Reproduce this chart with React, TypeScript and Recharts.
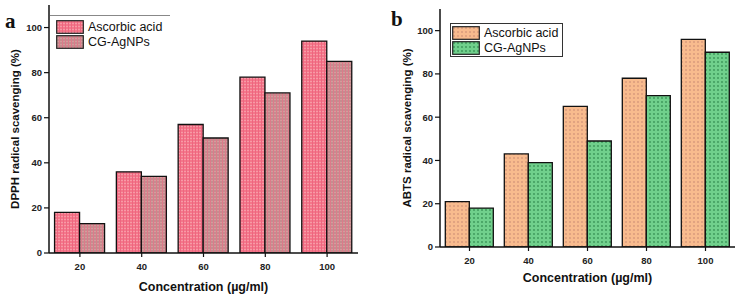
import React from 'react';
import { BarChart, Bar, XAxis, YAxis, Legend } from 'recharts';

const categories = ['20', '40', '60', '80', '100'];
const dpphAscorbic = [18, 36, 57, 78, 94];
const dpphCG = [13, 34, 51, 71, 85];
const abtsAscorbic = [21, 43, 65, 78, 96];
const abtsCG = [18, 39, 49, 70, 90];
const yTicks = [0, 20, 40, 60, 80, 100];
const seriesNames = ['Ascorbic acid', 'CG-AgNPs'];

const FONT = 'Arial, "Liberation Sans", sans-serif';

const build = (a: number[], b: number[]) =>
  categories.map((c, i) => ({ conc: c, asc: a[i], cg: b[i] }));

const Patterns = () => (
  <defs>
    <pattern id="pA" width="3" height="3" patternUnits="userSpaceOnUse">
      <rect width="3" height="3" fill="#f4788a" />
      <rect width="3" height="1" fill="#f79aa6" />
      <rect width="1" height="3" fill="#ee6680" />
    </pattern>
    <pattern id="pB" width="3" height="3" patternUnits="userSpaceOnUse">
      <rect width="3" height="3" fill="#c48d8f" />
      <rect width="3" height="1" fill="#d59b9c" />
      <rect width="1" height="3" fill="#dd7a8a" />
    </pattern>
    <pattern id="pC" width="4" height="4" patternUnits="userSpaceOnUse">
      <rect width="4" height="4" fill="#f8bb8e" />
      <circle cx="2" cy="2" r="0.9" fill="#d7987a" />
    </pattern>
    <pattern id="pD" width="4" height="4" patternUnits="userSpaceOnUse">
      <rect width="4" height="4" fill="#70d08c" />
      <circle cx="2" cy="2" r="0.9" fill="#3a9558" />
    </pattern>
  </defs>
);

type PanelProps = {
  data: { conc: string; asc: number; cg: number }[];
  left: number;
  yWidth: number;
  top: number;
  right: number;
  bottom: number;
  ascFill: string;
  cgFill: string;
  yLabel: string;
  yLabelX: number;
  xLabelY: number;
  legendStyle: React.CSSProperties;
  legendBoxed: boolean;
  letter: string;
  letterX: number;
  letterY: number;
};

const Panel = (p: PanelProps) => {
  const W = 372;
  const H = 300;
  const plotTop = p.top;
  const plotBottom = H - p.bottom - 30;
  const plotLeft = p.yWidth;
  const plotRight = W - p.right;
  const yCenter = (plotTop + plotBottom) / 2;
  const xCenter = (plotLeft + plotRight) / 2;

  const legendContent = () => (
    <div
      style={{
        fontFamily: FONT,
        fontSize: 12.5,
        color: '#111',
        border: p.legendBoxed ? '1.2px solid #333' : 'none',
        borderTop: p.legendBoxed ? '1.2px solid #333' : '1.2px solid #888',
        padding: p.legendBoxed ? '1px 3px 1px 1px' : '3px 3px 1px 6px',
        boxSizing: 'border-box',
        background: 'white',
      }}
    >
      {[p.ascFill, p.cgFill].map((f, i) => (
        <div key={i} style={{ display: 'flex', alignItems: 'center', height: 15 }}>
          <svg width={28} height={14} style={{ marginRight: 4 }}>
            <rect x={0.7} y={0.7} width={26.6} height={12.6} fill={f} stroke="#222" strokeWidth={1.2} />
          </svg>
          <span>{seriesNames[i]}</span>
        </div>
      ))}
    </div>
  );

  return (
    <div style={{ position: 'absolute', left: p.left, top: 0, width: W, height: H }}>
      <BarChart
        width={W}
        height={H}
        data={p.data}
        margin={{ top: p.top, right: p.right, left: 0, bottom: p.bottom }}
        barCategoryGap="9%"
        barGap={0}
      >
        <Patterns />
        <XAxis
          dataKey="conc"
          height={30}
          axisLine={{ stroke: '#111', strokeWidth: 1.5 }}
          tickLine={{ stroke: '#111', strokeWidth: 1.2 }}
          tickSize={4}
          tick={{ fontFamily: FONT, fontSize: 9.5, fontWeight: 700, fill: '#222' }}
          tickMargin={6}
          label={{
            content: () => (
              <text
                x={xCenter}
                y={p.xLabelY}
                textAnchor="middle"
                style={{ fontFamily: FONT, fontSize: 12.5, fontWeight: 700, fill: '#111' }}
              >
                Concentration (µg/ml)
              </text>
            ),
          }}
        />
        <XAxis
          xAxisId="top"
          dataKey="conc"
          orientation="top"
          height={0}
          tick={false}
          tickLine={false}
          axisLine={{ stroke: '#111', strokeWidth: 1.5 }}
        />
        <YAxis
          width={p.yWidth}
          domain={[0, 110]}
          ticks={yTicks}
          allowDataOverflow
          axisLine={{ stroke: '#111', strokeWidth: 1.5 }}
          tickLine={{ stroke: '#111', strokeWidth: 1.2 }}
          tickSize={5}
          tickMargin={2}
          tick={{ fontFamily: FONT, fontSize: 9.5, fontWeight: 700, fill: '#222' }}
          label={{
            content: () => (
              <text
                x={p.yLabelX}
                y={yCenter}
                textAnchor="middle"
                transform={`rotate(-90, ${p.yLabelX}, ${yCenter})`}
                dominantBaseline="central"
                style={{ fontFamily: FONT, fontSize: 11.5, fontWeight: 700, fill: '#111' }}
              >
                {p.yLabel}
              </text>
            ),
          }}
        />
        <YAxis
          yAxisId="right"
          orientation="right"
          width={0}
          domain={[0, 110]}
          tick={false}
          tickLine={false}
          axisLine={{ stroke: '#111', strokeWidth: 1.5 }}
        />
        <Legend
          layout="horizontal"
          verticalAlign="middle"
          align="center"
          content={legendContent}
          wrapperStyle={p.legendStyle}
        />
        <Bar dataKey="asc" name={seriesNames[0]} fill={p.ascFill} stroke="#111" strokeWidth={1.3} isAnimationActive={false} />
        <Bar dataKey="cg" name={seriesNames[1]} fill={p.cgFill} stroke="#111" strokeWidth={1.3} isAnimationActive={false} />
      </BarChart>
      <div
        style={{
          position: 'absolute',
          left: p.letterX,
          top: p.letterY,
          fontFamily: '"Liberation Serif", "DejaVu Serif", serif',
          fontWeight: 700,
          fontSize: 21,
          lineHeight: 1,
          color: '#111',
        }}
      >
        {p.letter}
      </div>
    </div>
  );
};

export default function App() {
  return (
    <div style={{ position: 'absolute', left: 0, top: 0, width: 744, height: 300, background: 'white' }}>
      <Panel
        data={build(dpphAscorbic, dpphCG)}
        left={0}
        yWidth={49}
        top={5}
        right={14}
        bottom={17}
        ascFill="url(#pA)"
        cgFill="url(#pB)"
        yLabel="DPPH radical scavenging (%)"
        yLabelX={15}
        xLabelY={291}
        legendStyle={{ position: 'absolute', left: 50, top: 15, width: 120, height: 34 }}
        legendBoxed={false}
        letter="a"
        letterX={5}
        letterY={11}
      />
      <Panel
        data={build(abtsAscorbic, abtsCG)}
        left={372}
        yWidth={68}
        top={9}
        right={9}
        bottom={23}
        ascFill="url(#pC)"
        cgFill="url(#pD)"
        yLabel="ABTS radical scavenging (%)"
        yLabelX={35}
        xLabelY={282}
        legendStyle={{ position: 'absolute', left: 78, top: 23, width: 113, height: 35 }}
        legendBoxed={true}
        letter="b"
        letterX={19}
        letterY={9}
      />
    </div>
  );
}
